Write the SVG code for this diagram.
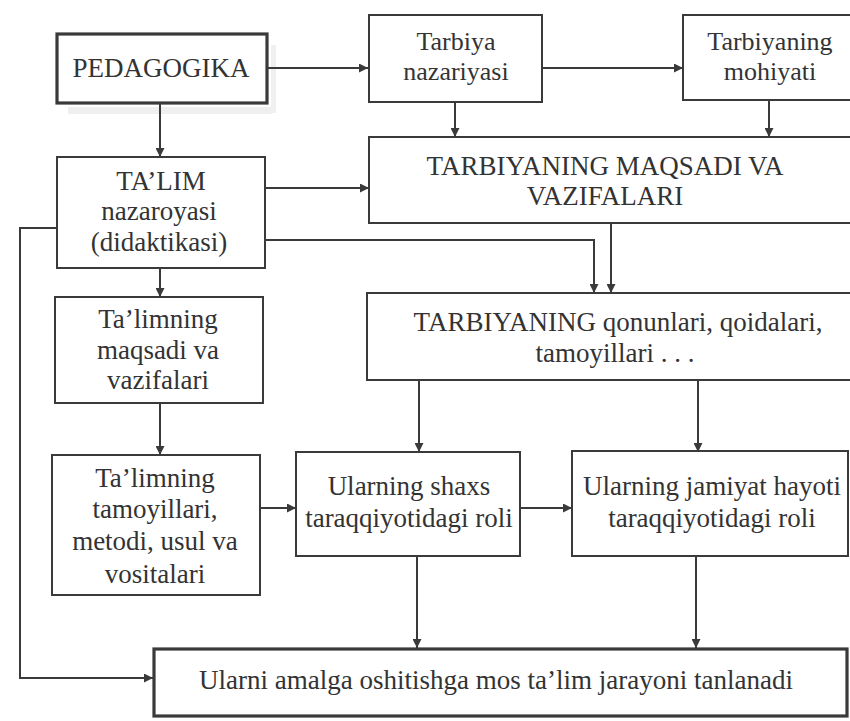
<svg xmlns="http://www.w3.org/2000/svg" width="850" height="721" viewBox="0 0 850 721">
<style>
.box{fill:#fff;stroke:#3a3a3a;stroke-width:2}
.thick{stroke-width:3.2}
text{font-family:'Liberation Serif','Times New Roman',serif;font-size:27px;fill:#333;text-anchor:middle}
.sm{font-size:26px}
.con{fill:none;stroke:#3a3a3a;stroke-width:2}
</style>
<defs>
<marker id="ah" viewBox="0 0 10 10" refX="10" refY="5" markerWidth="9" markerHeight="9" markerUnits="userSpaceOnUse" orient="auto">
<path d="M0,0 L10,5 L0,10 z" fill="#3a3a3a"/>
</marker>
</defs>
<rect width="850" height="721" fill="#fff"/>
<rect x="68" y="107" width="204" height="7" fill="#efefef"/>
<rect x="271" y="45" width="5" height="68" fill="#f0f0f0"/>

<g id="connectors">
<path class="con" d="M267,68 H368" marker-end="url(#ah)"/>
<path class="con" d="M542,68 H683" marker-end="url(#ah)"/>
<path class="con" d="M455,102 V137" marker-end="url(#ah)"/>
<path class="con" d="M769,100 V137" marker-end="url(#ah)"/>
<path class="con" d="M160,103 V157" marker-end="url(#ah)"/>
<path class="con" d="M265,188 H369" marker-end="url(#ah)"/>
<path class="con" d="M265,240 H594 V293" marker-end="url(#ah)"/>
<path class="con" d="M611,223 V293" marker-end="url(#ah)"/>
<path class="con" d="M57,228 H20 V678 H153" marker-end="url(#ah)"/>
<path class="con" d="M160,268 V297" marker-end="url(#ah)"/>
<path class="con" d="M160,403 V455" marker-end="url(#ah)"/>
<path class="con" d="M260,508 H296" marker-end="url(#ah)"/>
<path class="con" d="M520,508 H572" marker-end="url(#ah)"/>
<path class="con" d="M419,380 V452" marker-end="url(#ah)"/>
<path class="con" d="M698,380 V452" marker-end="url(#ah)"/>
<path class="con" d="M417,556 V648" marker-end="url(#ah)"/>
<path class="con" d="M696,556 V648" marker-end="url(#ah)"/>
</g>

<g id="pedagogika">
<rect class="box thick" x="57" y="34" width="210" height="69"/>
<text x="161" y="77">PEDAGOGIKA</text>
</g>
<g id="tarbiya-nazariyasi">
<rect class="box" x="369" y="15" width="173" height="87"/>
<text class="sm" x="456" y="50">Tarbiya</text>
<text class="sm" x="456" y="80">nazariyasi</text>
</g>
<g id="tarbiyaning-mohiyati">
<rect class="box" x="683" y="15" width="170" height="85"/>
<text class="sm" x="770" y="50">Tarbiyaning</text>
<text class="sm" x="770" y="80">mohiyati</text>
</g>
<g id="tarbiyaning-maqsadi">
<rect class="box" x="369" y="137" width="484" height="86"/>
<text x="605" y="175">TARBIYANING MAQSADI VA</text>
<text x="605" y="205">VAZIFALARI</text>
</g>
<g id="talim-nazariyasi">
<rect class="box" x="57" y="157" width="208" height="111"/>
<text x="161" y="190">TA’LIM</text>
<text x="159" y="220">nazaroyasi</text>
<text x="159" y="251">(didaktikasi)</text>
</g>
<g id="tarbiyaning-qonunlari">
<rect class="box" x="367" y="293" width="486" height="87"/>
<text x="618" y="331">TARBIYANING qonunlari, qoidalari,</text>
<text x="615" y="362">tamoyillari . . .</text>
</g>
<g id="talim-maqsadi">
<rect class="box" x="55" y="297" width="208" height="106"/>
<text x="158" y="328">Ta’limning</text>
<text x="158" y="359">maqsadi va</text>
<text x="158" y="389">vazifalari</text>
</g>
<g id="talim-tamoyillari">
<rect class="box" x="52" y="455" width="208" height="140"/>
<text x="155" y="487">Ta’limning</text>
<text x="155" y="518">tamoyillari,</text>
<text x="155" y="550">metodi, usul va</text>
<text x="155" y="583">vositalari</text>
</g>
<g id="shaxs-roli">
<rect class="box" x="296" y="452" width="224" height="104"/>
<text x="409" y="495">Ularning shaxs</text>
<text x="409" y="527">taraqqiyotidagi roli</text>
</g>
<g id="jamiyat-roli">
<rect class="box" x="572" y="451" width="276" height="105"/>
<text x="712" y="495">Ularning jamiyat hayoti</text>
<text x="712" y="527">taraqqiyotidagi roli</text>
</g>
<g id="talim-jarayoni">
<rect class="box thick" x="154" y="649" width="693" height="67"/>
<text x="496" y="689">Ularni amalga oshitishga mos ta’lim jarayoni tanlanadi</text>
</g>
</svg>
